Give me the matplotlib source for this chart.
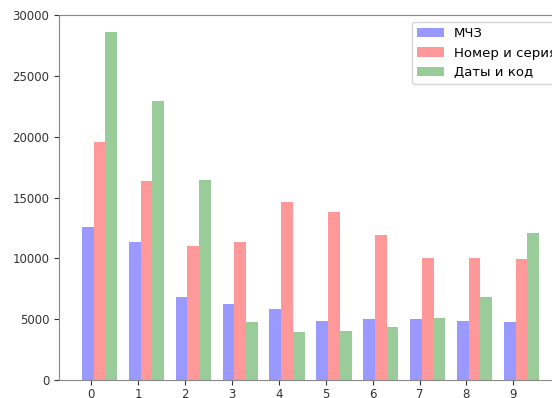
import numpy as np
import matplotlib
matplotlib.use('Agg')
import matplotlib.pyplot as plt

# digits 0..9 and counts per zone
digits = list(range(10))
mrz = [12600, 11320, 6840, 6250, 5810, 4880, 5040, 5040, 4880, 4790]
number_series = [19590, 16360, 11010, 11320, 14650, 13830, 11920, 10050, 10050, 9920]
dates_code = [28630, 22930, 16440, 4790, 3920, 4050, 4380, 5120, 6840, 12050]
labels = ['МЧЗ', 'Номер и серия', 'Даты и код']

plt.rcParams['font.size'] = 8.5

fig = plt.figure(figsize=(5.52, 3.98), dpi=100)
# axes runs past the right edge, the reference is cropped there
ax = fig.add_axes([0.107, 0.045, 0.911, 0.917])

x = np.arange(len(digits))
w = 0.25
ax.bar(x - 0.075, mrz, w, color='b', alpha=0.4, label=labels[0])
ax.bar(x + 0.175, number_series, w, color='r', alpha=0.4, label=labels[1])
ax.bar(x + 0.425, dates_code, w, color='g', alpha=0.4, label=labels[2])

ax.set_xticks(x)
ax.set_xticklabels([str(d) for d in digits])
ax.set_ylim(0, 30000)
for s in ax.spines.values():
    s.set_color('#888888')
ax.tick_params(colors='#333333')
ax.tick_params(axis='x', pad=2.5)
ax.legend(loc='upper right', fontsize=9.5, bbox_to_anchor=(1.014, 1.0))

fig.savefig('out.png', dpi=100)
